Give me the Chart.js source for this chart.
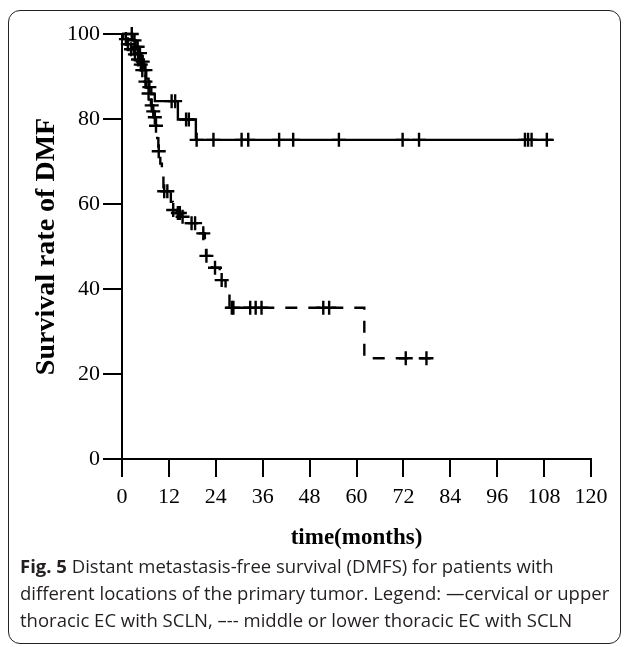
<!DOCTYPE html>
<html>
<head>
<meta charset="utf-8">
<script src="https://cdn.jsdelivr.net/npm/chart.js@4.4.0/dist/chart.umd.min.js"></script>
<style>
  html, body { margin: 0; padding: 0; background: #fff; }
  body { width: 630px; height: 647px; position: relative; overflow: hidden; }
  #frame { position: absolute; left: 8px; top: 10px; width: 613px; height: 634px;
           border: 1.5px solid #222; border-radius: 12px; box-sizing: border-box; }
  #wrap { position: absolute; left: 0; top: 0; width: 630px; height: 560px; }
  #caption { position: absolute; left: 20px; top: 552px; width: 605px;
             font-family: "Open Sans", sans-serif; font-size: 18.5px; line-height: 27px; color: #231f20; white-space: nowrap; }
  #caption b { font-weight: 700; }
</style>
</head>
<body>
<div id="frame"></div>
<div id="wrap"><canvas id="c" width="630" height="560"></canvas></div>
<div id="caption"><b>Fig. 5</b> Distant metastasis-free survival (DMFS) for patients with<br>different locations of the primary tumor. Legend: —cervical or upper<br>thoracic EC with SCLN, –-- middle or lower thoracic EC with SCLN</div>
<script>
// ---- Data ----
const xTicks = [0, 12, 24, 36, 48, 60, 72, 84, 96, 108, 120];
const yTicks = [0, 20, 40, 60, 80, 100];

// cervical / upper thoracic EC with SCLN (solid): event times and survival after each event
const upperTimes = [0, 2.7, 3.5, 4.2, 5.0, 5.6, 6.2, 6.8, 7.5, 8.4, 14.3, 18.9, 110.2];
const upperSurv  = [100, 98.5, 97.0, 95.5, 93.5, 91.5, 89.5, 87.5, 85.8, 84.2, 79.9, 75.1, 75.1];
const upperCensor = [2.5, 3.2, 4.0, 4.6, 5.3, 6.0, 7.0, 12.7, 13.6, 16.4, 17.1, 19.1, 23.4, 30.6, 32.3,
                     40.2, 43.8, 55.5, 71.8, 76.0, 103.1, 103.9, 104.8, 108.7];

// middle / lower thoracic EC with SCLN (dashed)
const lowerTimes = [0, 0.3, 1.2, 2.0, 3.0, 3.8, 4.5, 5.0, 5.5, 5.8, 6.2, 6.6, 7.0, 7.4, 7.8, 8.2, 8.6,
                    9.0, 9.3, 9.8, 10.2, 10.6, 12.5, 13.0, 14.0, 15.0, 16.5, 19.5, 21.2, 21.5, 23.0,
                    25.0, 26.5, 27.5, 62.0, 79.6];
const lowerSurv  = [100, 98.8, 97.6, 96.4, 95.2, 94.0, 92.8, 91.5, 90.2, 88.8, 87.4, 86.0, 84.6, 83.2,
                    81.8, 80.4, 78.4, 75.5, 72.4, 69.5, 66.5, 63.0, 60.5, 58.6, 57.9, 57.0, 55.5, 53.1,
                    50.5, 47.8, 45.0, 42.1, 39.0, 35.6, 23.7, 23.7];
const lowerCensor = [1.0, 1.5, 2.3, 3.3, 4.1, 4.8, 5.2, 6.0, 6.8, 7.6, 8.0, 8.4, 8.7, 9.4, 10.8, 11.6,
                     13.1, 14.3, 14.8, 15.5, 17.8, 18.7, 20.8, 21.6, 23.8, 25.5, 28.1, 28.5, 32.8,
                     34.2, 35.7, 51.5, 53.0, 72.6, 77.9];

// ---- helpers ----
function survAt(times, surv, t) {
  let v = surv[0];
  for (let i = 0; i < times.length; i++) { if (times[i] <= t) v = surv[i]; }
  return v;
}
const toPts = (ts, vs) => ts.map((t, i) => ({ x: t, y: vs[i] }));
const censorPts = (cs, ts, vs) => cs.map(t => ({ x: t, y: survAt(ts, vs, t) }));

const serif = "'Liberation Serif', 'Times New Roman', serif";

new Chart(document.getElementById('c'), {
  type: 'line',
  data: {
    datasets: [
      { data: toPts(upperTimes, upperSurv), stepped: 'before', borderColor: '#000', borderWidth: 2.4,
        pointRadius: 0, fill: false, clip: false },
      { data: toPts(lowerTimes, lowerSurv), stepped: 'before', borderColor: '#000', borderWidth: 2.4,
        borderDash: [12, 11], pointRadius: 0, fill: false, clip: false },
      { type: 'scatter', data: censorPts(upperCensor, upperTimes, upperSurv), pointStyle: 'cross',
        pointRadius: 7, pointBorderWidth: 2.4, pointBorderColor: '#000', showLine: false, clip: false },
      { type: 'scatter', data: censorPts(lowerCensor, lowerTimes, lowerSurv), pointStyle: 'cross',
        pointRadius: 7, pointBorderWidth: 2.4, pointBorderColor: '#000', showLine: false, clip: false }
    ]
  },
  options: {
    responsive: false,
    animation: false,
    devicePixelRatio: 1,
    layout: { padding: { left: 30, top: 34, right: 39, bottom: 0 } },
    plugins: { legend: { display: false }, tooltip: { enabled: false } },
    scales: {
      x: {
        type: 'linear', min: 0, max: 120,
        afterBuildTicks: s => { s.ticks = xTicks.map(v => ({ value: v })); },
        afterFit: s => { s.height = 101; },
        ticks: { font: { family: serif, size: 22 }, color: '#000', padding: 7, maxRotation: 0, autoSkip: false },
        grid: { drawOnChartArea: false, drawTicks: true, tickLength: 18, color: '#000', lineWidth: 2 },
        border: { display: true, color: '#000', width: 2 },
        title: { display: true, text: 'time(months)', color: '#000',
                 font: { family: serif, size: 23, weight: 'bold' }, padding: { top: 0, bottom: 8 } }
      },
      y: {
        type: 'linear', min: 0, max: 100,
        afterBuildTicks: s => { s.ticks = yTicks.map(v => ({ value: v })); },
        afterFit: s => { s.width = 92; },
        ticks: { font: { family: serif, size: 22 }, color: '#000', padding: 3 },
        grid: { drawOnChartArea: false, drawTicks: true, tickLength: 19, color: '#000', lineWidth: 2 },
        border: { display: true, color: '#000', width: 2 },
        title: { display: true, text: 'Survival rate of DMF', color: '#000',
                 font: { family: serif, size: 28, weight: 'bold' }, padding: { top: 0, bottom: 0 } }
      }
    }
  }
});
</script>
</body>
</html>
